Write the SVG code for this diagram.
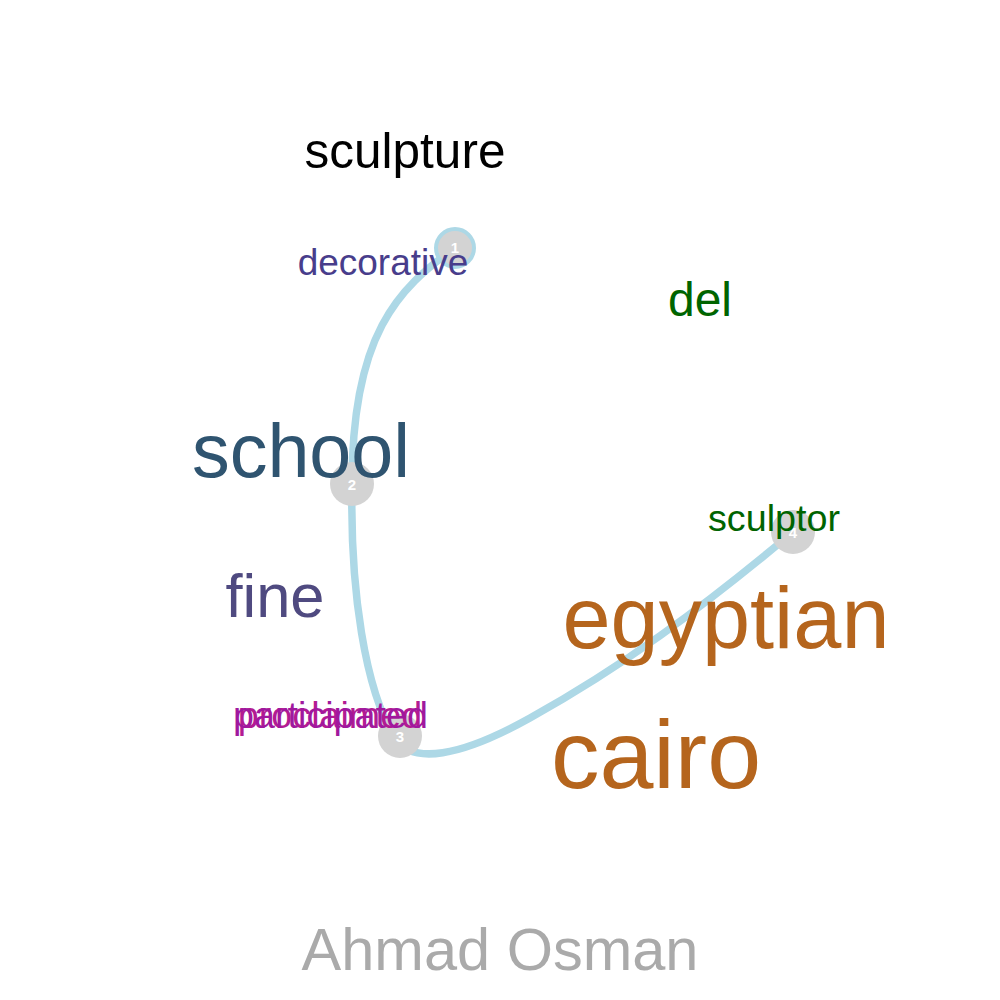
<svg xmlns="http://www.w3.org/2000/svg" width="1000" height="1000" viewBox="0 0 1000 1000">
<style>
.edge{fill:none;stroke:#add8e6;stroke-width:7.5;stroke-linecap:round}
.node{fill:#d3d3d3}
.num{font-family:"Liberation Sans",Arial,sans-serif;font-size:15px;font-weight:bold;fill:#ffffff;text-anchor:middle}
.lbl{font-family:"Liberation Sans",Arial,sans-serif;text-anchor:middle}
</style>
<rect width="1000" height="1000" fill="#ffffff"/>
<g id="connectors">
<path class="edge" d="M455,248 C398,288 352,335 352,484"/>
<path class="edge" d="M352,484 C350,590 365,690 395,738 C412,765 460,757 530,718 C620,668 700,610 793,532"/>
</g>
<g id="node1">
<circle cx="455" cy="248" r="19" fill="#d3d3d3" stroke="#add8e6" stroke-width="4"/>
<text class="num" x="455" y="253">1</text>
</g>
<g id="node2">
<circle class="node" cx="352" cy="484" r="22"/>
<text class="num" x="352" y="490">2</text>
</g>
<g id="node3">
<circle class="node" cx="400" cy="736" r="22"/>
<text class="num" x="400" y="742">3</text>
</g>
<g id="node4">
<circle class="node" cx="793" cy="532" r="22"/>
<text class="num" x="793" y="538">4</text>
</g>
<g id="labels">
<text class="lbl" x="405" y="168" font-size="49.5" fill="#000000">sculpture</text>
<text class="lbl" x="383" y="275" font-size="37" fill="#483d8b">decorative</text>
<text class="lbl" x="700" y="316" font-size="48" fill="#006400">del</text>
<text class="lbl" x="301" y="477" font-size="75.5" fill="#2f5470">school</text>
<text class="lbl" x="774" y="531" font-size="37.7" fill="#006400">sculptor</text>
<text class="lbl" x="275" y="617" font-size="61.5" fill="#4f4a80">fine</text>
<text class="lbl" x="726" y="648" font-size="86.5" fill="#b5651d">egyptian</text>
<text class="lbl" x="330" y="728" font-size="37.7" fill="#b31b93">proclaimed</text>
<text class="lbl" x="330.5" y="728" font-size="37.7" fill="#a0189e">participated</text>
<text class="lbl" x="656" y="788" font-size="97" fill="#b5651d">cairo</text>
<text class="lbl" x="500" y="970" font-size="59.5" fill="#aaaaaa">Ahmad Osman</text>
</g>
</svg>
